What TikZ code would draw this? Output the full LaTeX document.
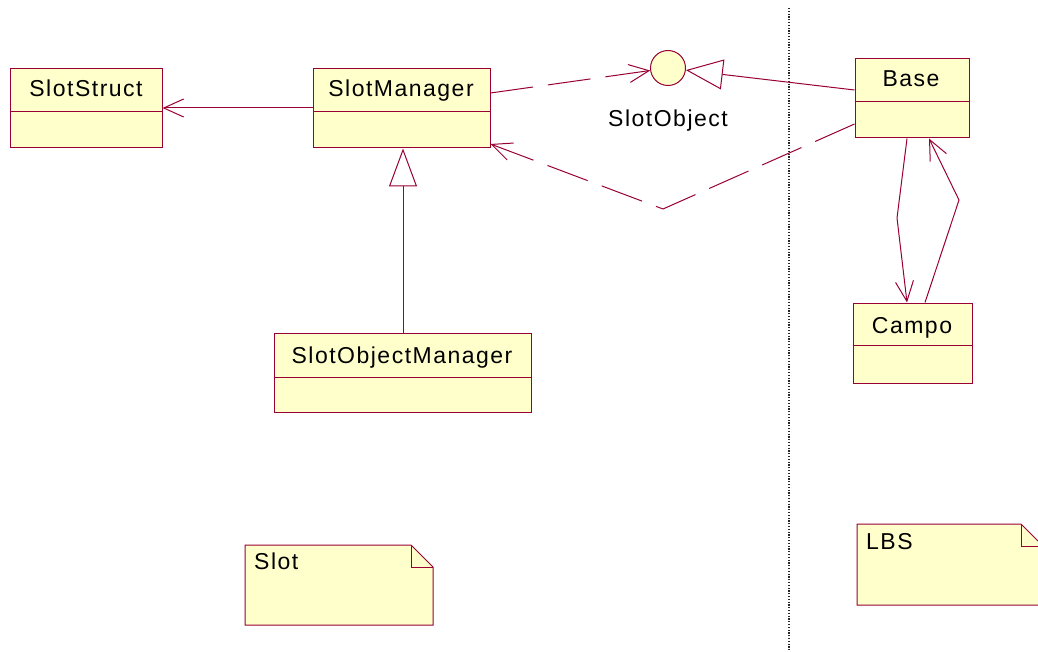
\documentclass[tikz,border=0pt]{standalone}
\usepackage{fontspec}
\setmainfont{Liberation Sans}[LetterSpace=6.5]
\usetikzlibrary{arrows.meta}
\definecolor{umlline}{RGB}{153,0,51}
\definecolor{umlfill}{RGB}{255,255,204}
\tikzset{
  cls/.style={draw=umlline, fill=umlfill, line width=1pt, inner sep=0pt},
  lbl/.style={font=\fontsize{23}{26}\selectfont, text=black, inner sep=0pt},
  conn/.style={draw=umlline, line width=1pt},
  assoc/.style={conn, -{Straight Barb[length=20pt,width=18pt]}},
  dep/.style={assoc, dash pattern=on 43pt off 15pt},
  gen/.style={conn, -{Triangle[open,length=38pt,width=28pt,fill=white]}},
  real/.style={conn, -{Triangle[open,length=37pt,width=30pt,fill=white]}},
  divider/.style={draw=umlline, line width=1pt},
}
\begin{document}
\begin{tikzpicture}[x=1pt,y=-1pt]
\useasboundingbox (0,0) rectangle (1038,652);
\clip (0,0) rectangle (1038,652);

% package separator
\draw[black!85, line width=1.1pt, dash pattern=on 1.2pt off 1.6pt] (789,8) -- (789,650);

% classes
\node[cls, minimum width=152pt, minimum height=79pt] (ss) at (86,108.5) {};
\draw[divider] (ss.west |- 0,112) -- (ss.east |- 0,112);
\node[lbl, anchor=base] at (86,97) {SlotStruct};

\node[cls, minimum width=177pt, minimum height=79pt] (sm) at (401.5,108.5) {};
\draw[divider] (sm.west |- 0,112) -- (sm.east |- 0,112);
\node[lbl, anchor=base] at (401,97) {SlotManager};

\node[cls, minimum width=257pt, minimum height=79pt] (som) at (402.5,372.5) {};
\draw[divider] (som.west |- 0,377) -- (som.east |- 0,377);
\node[lbl, anchor=base] at (402,363) {SlotObjectManager};

\node[cls, minimum width=114pt, minimum height=79pt] (base) at (912,98.5) {};
\draw[divider] (base.west |- 0,102) -- (base.east |- 0,102);
\node[lbl, anchor=base] at (911,87) {Base};

\node[cls, minimum width=119pt, minimum height=80pt] (campo) at (912.5,343) {};
\draw[divider] (campo.west |- 0,345) -- (campo.east |- 0,345);
\node[lbl, anchor=base] at (912,333) {Campo};

% interface
\node[cls, circle, minimum size=35pt] (so) at (668,68) {};
\node[lbl, anchor=base] at (668,127) {SlotObject};

% notes
\path[cls] (245,545) -- (411,545) -- (433,567) -- (433,625) -- (245,625) -- cycle;
\draw[divider] (411,545) -- (411,567) -- (433,567);
\node[lbl, anchor=base west] (slotnote) at (254,569) {Slot};

\path[cls] (857,524) -- (1021,524) -- (1043,546) -- (1043,605) -- (857,605) -- cycle;
\draw[divider] (1021,524) -- (1021,546) -- (1043,546);
\node[lbl, anchor=base west] (lbsnote) at (866,549) {LBS};

% relations
\draw[assoc] (sm.west |- 0,108) -- (ss.east |- 0,108);
\draw[dep] (sm.east |- 0,93) -- (so);
\draw[real] (base.west |- 0,90) -- (so);
\draw[dep] (base.west |- 0,124) -- (663,209) -- (sm.east |- 0,144);
\draw[gen] (som.north -| 403,0) -- (sm.south -| 403,0);
\draw[assoc] (base.south -| 907,0) -- (897,218) -- (campo.north -| 907,0);
\draw[assoc] (campo.north -| 925,0) -- (959,200) -- (base.south -| 929,0);
\end{tikzpicture}
\end{document}
